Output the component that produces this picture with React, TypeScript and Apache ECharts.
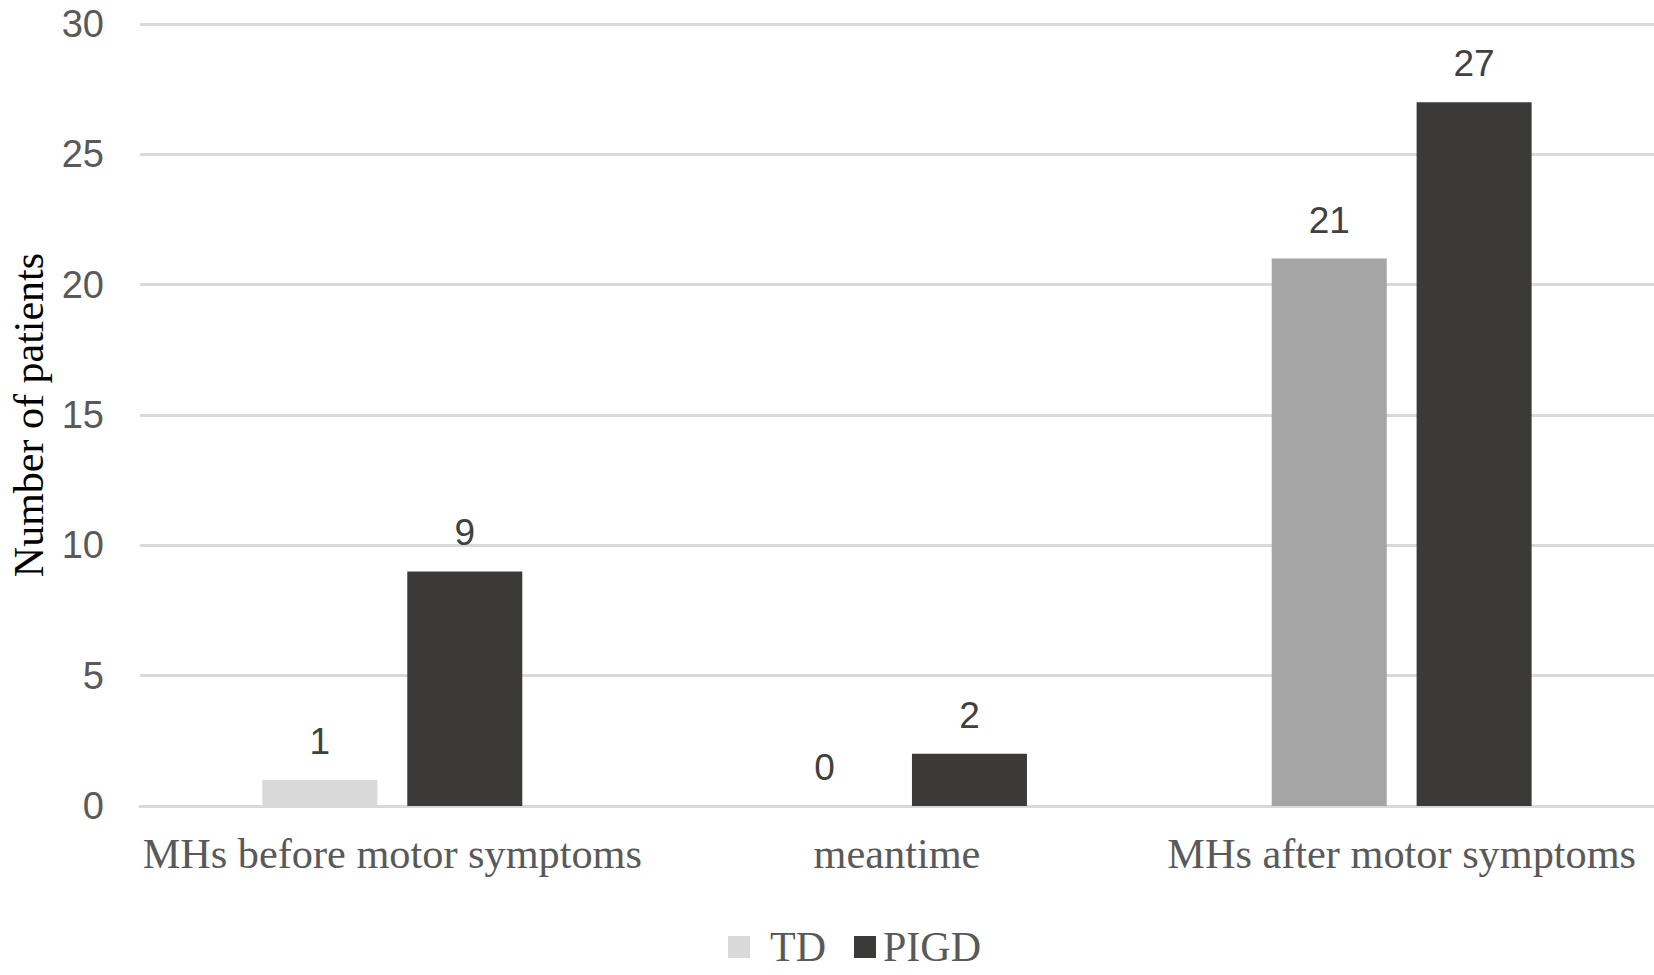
import React, { useEffect, useRef } from "react";
import * as echarts from "echarts";

const categories = ["MHs before motor symptoms", "meantime", "MHs after motor symptoms"];
const tdValues = [1, 0, 21];
const pigdValues = [9, 2, 27];
const tdColors = ["#d9d9d9", "#d9d9d9", "#a5a5a5"];
const yTicks = [0, 5, 10, 15, 20, 25, 30];

export default function App() {
  const ref = useRef<HTMLDivElement>(null);
  useEffect(() => {
    document.body.style.margin = "0";
    const chart = echarts.init(ref.current!, null, { renderer: "svg" });
    const serif = "'Liberation Serif', 'Times New Roman', serif";
    const sans = "'Liberation Sans', Arial, sans-serif";
    const legendBase = {
      top: 926,
      padding: 0,
      itemWidth: 22,
      itemHeight: 22,
      icon: "rect",
    };
    chart.setOption({
      animation: false,
      backgroundColor: "#ffffff",
      grid: { left: 132, right: 0, top: 24, bottom: 169, containLabel: false },
      legend: [
        {
          ...legendBase,
          data: ["TD"],
          left: 728,
          textStyle: { fontFamily: serif, fontSize: 42, color: "#595959", padding: [0, 0, 0, 15] },
        },
        {
          ...legendBase,
          data: ["PIGD"],
          left: 854,
          textStyle: { fontFamily: serif, fontSize: 42, color: "#595959", padding: [0, 0, 0, 2] },
        },
      ],
      xAxis: {
        type: "category",
        data: categories,
        axisLine: { lineStyle: { color: "#d9d9d9", width: 3 } },
        axisTick: { show: false },
        axisLabel: {
          fontFamily: serif,
          fontSize: 42.3,
          color: "#595959",
          margin: 26,
          interval: 0,
        },
      },
      yAxis: {
        type: "value",
        min: yTicks[0],
        max: yTicks[yTicks.length - 1],
        interval: 5,
        name: "Number of patients",
        nameLocation: "middle",
        nameGap: 90,
        nameTextStyle: { fontFamily: serif, fontSize: 42, color: "#000000" },
        axisLine: { show: false },
        axisTick: { show: false },
        axisLabel: { fontFamily: sans, fontSize: 38, color: "#595959", margin: 36 },
        splitLine: { lineStyle: { color: "#d9d9d9", width: 3 } },
      },
      series: [
        {
          name: "TD",
          type: "bar",
          barWidth: 115,
          barGap: "26%",
          itemStyle: { color: "#d9d9d9" },
          data: tdValues.map((v, i) => ({ value: v, itemStyle: { color: tdColors[i] } })),
          label: { show: true, position: "top", distance: 20, fontFamily: sans, fontSize: 37, color: "#404040" },
        },
        {
          name: "PIGD",
          type: "bar",
          barWidth: 115,
          barGap: "26%",
          itemStyle: { color: "#3b3a38" },
          data: pigdValues,
          label: { show: true, position: "top", distance: 20, fontFamily: sans, fontSize: 37, color: "#404040" },
        },
      ],
    });
    return () => chart.dispose();
  }, []);
  return <div ref={ref} style={{ width: 1654, height: 975 }} />;
}
